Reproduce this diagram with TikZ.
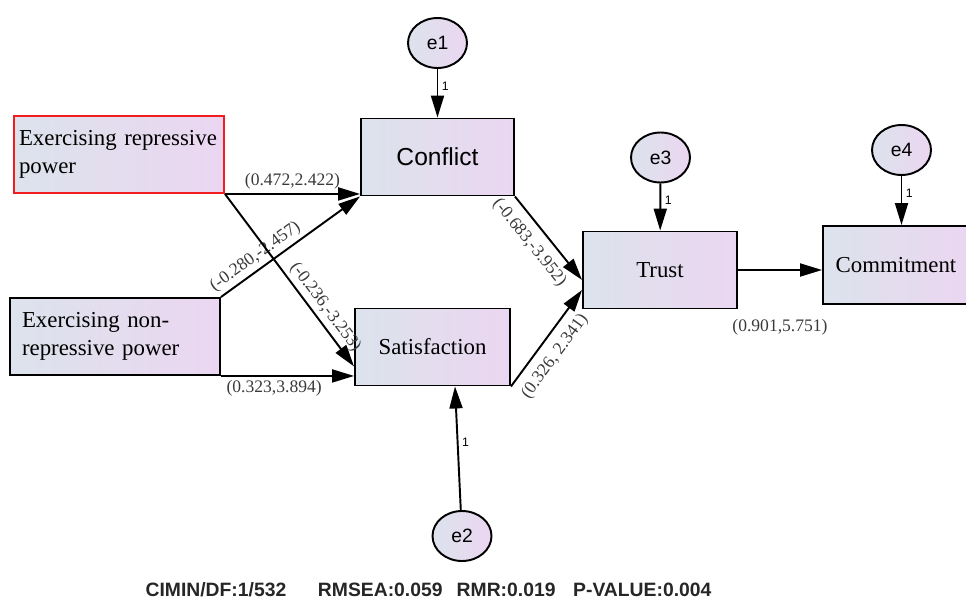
\documentclass[tikz,border=0pt]{standalone}
\usepackage{fontspec}
\setmainfont{Liberation Serif}
\setsansfont{Liberation Sans}
\definecolor{semBlue}{HTML}{DCE3EC}
\definecolor{semLilac}{HTML}{EBD6F1}
\definecolor{semRed}{HTML}{F01E1E}
\definecolor{semInk}{HTML}{3A3A3A}
\usetikzlibrary{arrows.meta, shapes.geometric}

\begin{document}
\begin{tikzpicture}[x=0.02cm, y=-0.02cm,
  varbox/.style={draw=black, line width=1.1pt, left color=semBlue, right color=semLilac,
                 minimum height=1.54cm, inner sep=0pt, font=\fontsize{13}{16}\selectfont},
  errc/.style={ellipse, draw=black, line width=1.1pt, left color=semBlue, right color=semLilac,
               minimum width=1.18cm, minimum height=1.0cm, inner sep=0pt,
               font=\sffamily\fontsize{11}{13}\selectfont},
  link/.style={-{Triangle[length=4.4mm, width=2.6mm]}, line width=1.1pt},
  coef/.style={font=\fontsize{10}{12}\selectfont, text=semInk, inner sep=2pt},
  one/.style={right, font=\sffamily\fontsize{7}{8}\selectfont, inner sep=2pt}]
  \useasboundingbox (0,0) rectangle (966,601);
  \node[varbox, draw=semRed, minimum width=4.2cm, text width=4.0cm, align=left]
       (rep) at (119,154.5) {Exercising repressive\\power};
  \node[varbox, minimum width=4.2cm, text width=3.72cm, align=left]
       (nrep) at (115,336.5) {Exercising non-\\repressive power};
  \node[varbox, minimum width=3.06cm, font=\sffamily\fontsize{14}{16}\selectfont]
       (con) at (437.5,157) {Conflict};
  \node[varbox, minimum width=3.1cm] (sat) at (432.5,347) {Satisfaction};
  \node[varbox, minimum width=3.08cm] (tru) at (660,270) {Trust};
  \node[varbox, minimum width=2.92cm, minimum height=1.56cm] (com) at (896,265) {Commitment};
  \node[errc] (e1) at (437.5,43) {e1};
  \node[errc] (e2) at (462,536) {e2};
  \node[errc] (e3) at (660.5,157.5) {e3};
  \node[errc] (e4) at (901.5,150) {e4};
  \draw[link] (rep.south east) -- (rep.south east -| con.west)
       node[coef, midway, above] {(0.472,2.422)};
  \draw[link] (nrep.north east) -- (con.south west)
       node[coef, pos=0.3, sloped, above] {(-0.280,-2.457)};
  \draw[link] (rep.south east) -- ([yshift=0.4cm]sat.south west)
       node[coef, pos=0.7, sloped, above] {(-0.236,-3.253)};
  \draw[link] (nrep.south east) -- (nrep.south east -| sat.west)
       node[coef, pos=0.4, below] {(0.323,3.894)};
  \draw[link] (con.south east) -- ([yshift=-0.2cm]tru.west)
       node[coef, pos=0.42, sloped, below=3pt] {(-0.683,-3.952)};
  \draw[link] (sat.south east) -- ([yshift=-0.4cm]tru.west)
       node[coef, pos=0.42, sloped, below=3pt] {(0.326, 2.341)};
  \draw[link] (tru.east) -- (tru.east -| com.west)
       node[coef, midway, below=0.9cm] {(0.901,5.751)};
  \foreach \e/\v in {e1/con, e3/tru}{\draw[link] (\e) -- (\v) node[one, pos=0.35] {1};}
  \draw[link] (e4) -- (e4 |- com.north) node[one, pos=0.35] {1};
  \draw[link] (e2) -- ([xshift=0.45cm]sat.south) node[one, pos=0.55] {1};
  \node[font=\sffamily\bfseries\fontsize{11}{13}\selectfont, text=black!85]
       (stats) at (428.5,590)
       {CIMIN/DF:1/532\hspace{15pt} RMSEA:0.059\hspace{5pt} RMR:0.019\hspace{7pt} P-VALUE:0.004};
\end{tikzpicture}
\end{document}
